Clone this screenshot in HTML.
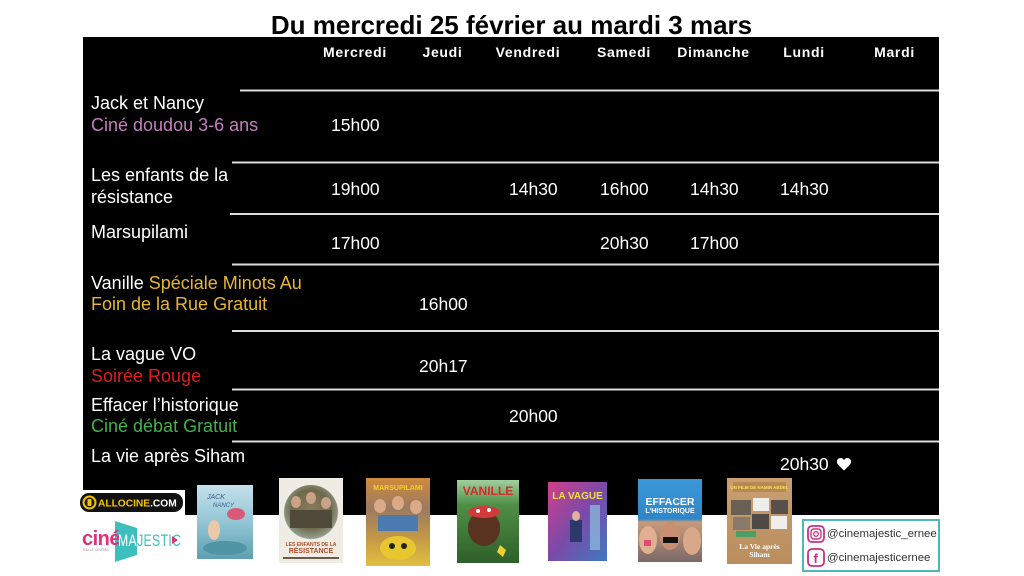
<!DOCTYPE html>
<html lang="fr">
<head>
<meta charset="utf-8">
<title>Du mercredi 25 février au mardi 3 mars</title>
<style>
  html, body { margin:0; padding:0; background:#ffffff; }
  body { width:1024px; height:576px; overflow:hidden; }
  svg { display:block; font-family:"Liberation Sans", Arial, sans-serif; }
</style>
</head>
<body>
<svg width="1024" height="576" viewBox="0 0 1024 576" xmlns="http://www.w3.org/2000/svg">
  <defs>
    <linearGradient id="gJack" x1="0" y1="0" x2="0" y2="1">
      <stop offset="0" stop-color="#c4e0ea"/>
      <stop offset="0.5" stop-color="#93c6d6"/>
      <stop offset="1" stop-color="#5d9fb0"/>
    </linearGradient>
    <radialGradient id="gEnfCircle" cx="0.5" cy="0.45" r="0.6">
      <stop offset="0" stop-color="#8a7a5a"/>
      <stop offset="0.6" stop-color="#6e6a4a"/>
      <stop offset="1" stop-color="#9fb2a8"/>
    </radialGradient>
    <linearGradient id="gMars" x1="0" y1="0" x2="0" y2="1">
      <stop offset="0" stop-color="#d08a3a"/>
      <stop offset="0.35" stop-color="#9a7a62"/>
      <stop offset="0.7" stop-color="#c59a45"/>
      <stop offset="1" stop-color="#e2c040"/>
    </linearGradient>
    <linearGradient id="gVan" x1="0" y1="0" x2="0" y2="1">
      <stop offset="0" stop-color="#9fd0a0"/>
      <stop offset="0.3" stop-color="#4f8f45"/>
      <stop offset="1" stop-color="#2f5f2a"/>
    </linearGradient>
    <linearGradient id="gVague" x1="0" y1="0" x2="1" y2="1">
      <stop offset="0" stop-color="#d0408a"/>
      <stop offset="0.5" stop-color="#7a4aa8"/>
      <stop offset="1" stop-color="#3f78c0"/>
    </linearGradient>
    <linearGradient id="gEff" x1="0" y1="0" x2="0" y2="1">
      <stop offset="0" stop-color="#3b98d8"/>
      <stop offset="0.48" stop-color="#2f86c8"/>
      <stop offset="0.52" stop-color="#c79a7a"/>
      <stop offset="1" stop-color="#7a6a6a"/>
    </linearGradient>
    <linearGradient id="gVie" x1="0" y1="0" x2="0" y2="1">
      <stop offset="0" stop-color="#caa070"/>
      <stop offset="1" stop-color="#b98d5d"/>
    </linearGradient>
  </defs>

  <!-- Title -->
  <text x="511.5" y="34" text-anchor="middle" font-size="26" font-weight="bold" fill="#000">Du mercredi 25 février au mardi 3 mars</text>

  <!-- Black table -->
  <rect x="83" y="37" width="856" height="478" fill="#000"/>

  <!-- Day headers -->
  <g font-size="14" font-weight="bold" fill="#ffffff" text-anchor="middle" letter-spacing="0.7">
    <text x="355" y="57">Mercredi</text>
    <text x="442.5" y="57">Jeudi</text>
    <text x="528" y="57">Vendredi</text>
    <text x="624" y="57">Samedi</text>
    <text x="713.5" y="57">Dimanche</text>
    <text x="804" y="57">Lundi</text>
    <text x="894.5" y="57">Mardi</text>
  </g>

  <!-- Row separators -->
  <g stroke="#dcdcdc" stroke-width="2">
    <line x1="240" y1="90.5" x2="939" y2="90.5"/>
    <line x1="232" y1="162.5" x2="939" y2="162.5"/>
    <line x1="230" y1="214" x2="939" y2="214"/>
    <line x1="232" y1="264.5" x2="939" y2="264.5"/>
    <line x1="232" y1="331" x2="939" y2="331"/>
    <line x1="232" y1="389.5" x2="939" y2="389.5"/>
    <line x1="232" y1="441.5" x2="939" y2="441.5"/>
  </g>

  <!-- Row labels -->
  <g font-size="18" fill="#ffffff">
    <text x="91" y="109">Jack et Nancy</text>
    <text x="91" y="131" fill="#c77dbf">Ciné doudou 3-6 ans</text>
    <text x="91" y="181">Les enfants de la</text>
    <text x="91" y="203">résistance</text>
    <text x="91" y="238">Marsupilami</text>
    <text x="91" y="289">Vanille <tspan fill="#e8b631">Spéciale Minots Au</tspan></text>
    <text x="91" y="310" fill="#e8b631">Foin de la Rue Gratuit</text>
    <text x="91" y="360">La vague VO</text>
    <text x="91" y="382" fill="#e21c1c">Soirée Rouge</text>
    <text x="91" y="411">Effacer l’historique</text>
    <text x="91" y="432" fill="#43b04a">Ciné débat Gratuit</text>
    <text x="91" y="462">La vie après Siham</text>
  </g>

  <!-- Times -->
  <g font-size="17.5" fill="#ffffff">
    <text x="331" y="131">15h00</text>

    <text x="331" y="195">19h00</text>
    <text x="509" y="195">14h30</text>
    <text x="600" y="195">16h00</text>
    <text x="690" y="195">14h30</text>
    <text x="780" y="195">14h30</text>

    <text x="331" y="249">17h00</text>
    <text x="600" y="249">20h30</text>
    <text x="690" y="249">17h00</text>

    <text x="419" y="310">16h00</text>

    <text x="419" y="372">20h17</text>

    <text x="509" y="422">20h00</text>

    <text x="780" y="470">20h30</text>
  </g>
  <!-- heart -->
  <path d="M844 470.5 L838.3 465 C835.8 462.4 836.8 458 840.6 458 C842.4 458 843.4 459 844 460.3 C844.6 459 845.6 458 847.4 458 C851.2 458 852.2 462.4 849.7 465 Z" fill="#ffffff"/>

  <!-- Allociné logo -->
  <rect x="78" y="490" width="107" height="25" fill="#ffffff"/>
  <rect x="80" y="493" width="103" height="19" rx="9" fill="#111"/>
  <circle cx="89.5" cy="502.5" r="7" fill="#f3c300"/>
  <circle cx="89.5" cy="502.5" r="5" fill="#1a1a1a"/>
  <rect x="87.5" y="499" width="4" height="7" rx="1" fill="#f3c300"/>
  <text x="98" y="506.5" font-size="10.2" font-weight="bold" fill="#f3c300">ALLOCINE<tspan fill="#ffffff">.COM</tspan></text>

  <!-- Cinéma Majestic logo -->
  <polygon points="115,521 137,528 137,555 115,562" fill="#3dbfbf"/>
  <text x="82" y="545" font-size="20" font-weight="bold" fill="#e2317c" letter-spacing="-0.5">ciné</text>
  <text x="83" y="551" font-size="3.5" fill="#999">SALLE CINEMA</text>
  <g transform="translate(118,546) scale(0.72,1)">
    <text x="0" y="0" font-size="17" fill="#ffffff" letter-spacing="0.5">MA<tspan fill="#3dbfbf">JESTIC</tspan></text>
  </g>
  <polygon points="172,536 178,540 172,544" fill="#e2317c"/>

  <!-- Poster: Jack et Nancy -->
  <rect x="197" y="485" width="56" height="74" fill="url(#gJack)"/>
  <ellipse cx="236" cy="514" rx="9" ry="6" fill="#d85a78"/>
  <ellipse cx="214" cy="530" rx="6" ry="10" fill="#e9c9a8"/>
  <ellipse cx="225" cy="548" rx="22" ry="7" fill="#4f95a5"/>
  <text x="207" y="499" font-size="7" font-style="italic" fill="#3b5e8a">JACK</text>
  <text x="213" y="507" font-size="6" font-style="italic" fill="#3b5e8a">NANCY</text>

  <!-- Poster: Les enfants de la résistance -->
  <rect x="279" y="478" width="64" height="85" fill="#efece3"/>
  <circle cx="311" cy="512" r="27" fill="url(#gEnfCircle)"/>
  <ellipse cx="296" cy="502" rx="5" ry="6" fill="#c9a288"/>
  <ellipse cx="311" cy="498" rx="5" ry="6" fill="#c9a288"/>
  <ellipse cx="326" cy="503" rx="5" ry="6" fill="#c9a288"/>
  <rect x="290" y="510" width="42" height="18" fill="#4f4a3a"/>
  <text x="311" y="546" text-anchor="middle" font-size="5" font-weight="bold" fill="#b04a2a">LES ENFANTS DE LA</text>
  <text x="311" y="553" text-anchor="middle" font-size="7" font-weight="bold" fill="#b04a2a">RÉSISTANCE</text>
  <rect x="283" y="557" width="56" height="2" fill="#6a5a4a"/>

  <!-- Poster: Marsupilami -->
  <rect x="366" y="478" width="64" height="88" fill="url(#gMars)"/>
  <text x="398" y="490" text-anchor="middle" font-size="7" font-weight="bold" fill="#f3d020">MARSUPILAMI</text>
  <ellipse cx="380" cy="506" rx="6" ry="7" fill="#d9a988"/>
  <ellipse cx="398" cy="503" rx="6" ry="7" fill="#d9a988"/>
  <ellipse cx="416" cy="507" rx="6" ry="7" fill="#d9a988"/>
  <rect x="378" y="515" width="40" height="16" fill="#4a7ab0"/>
  <ellipse cx="398" cy="548" rx="18" ry="12" fill="#e8c72e"/>
  <circle cx="392" cy="546" r="3" fill="#222"/>
  <circle cx="404" cy="546" r="3" fill="#222"/>

  <!-- Poster: Vanille -->
  <rect x="457" y="480" width="62" height="83" fill="url(#gVan)"/>
  <text x="488" y="495" text-anchor="middle" font-size="12" font-weight="bold" fill="#d42a2a">VANILLE</text>
  <ellipse cx="484" cy="528" rx="16" ry="18" fill="#5a3320"/>
  <ellipse cx="484" cy="512" rx="16" ry="6" fill="#d03a3a"/>
  <circle cx="478" cy="511" r="2" fill="#ffffff"/>
  <circle cx="489" cy="510" r="2" fill="#ffffff"/>
  <polygon points="500,545 506,550 503,557 497,552" fill="#f0d030"/>

  <!-- Poster: La vague -->
  <rect x="548" y="482" width="59" height="79" fill="url(#gVague)"/>
  <text x="577.5" y="499" text-anchor="middle" font-size="10" font-weight="bold" fill="#f2e040">LA VAGUE</text>
  <rect x="570" y="520" width="12" height="22" fill="#2b3a6a"/>
  <ellipse cx="576" cy="516" rx="4" ry="5" fill="#e0b0a0"/>
  <rect x="590" y="505" width="10" height="45" fill="#8ec0e0" opacity="0.7"/>

  <!-- Poster: Effacer l'historique -->
  <rect x="638" y="479" width="64" height="83" fill="url(#gEff)"/>
  <text x="670" y="505" text-anchor="middle" font-size="10.5" font-weight="bold" fill="#ffffff">EFFACER</text>
  <text x="670" y="513" text-anchor="middle" font-size="7" font-weight="bold" fill="#ffffff">L’HISTORIQUE</text>
  <ellipse cx="648" cy="540" rx="9" ry="14" fill="#e0b090"/>
  <ellipse cx="670" cy="536" rx="10" ry="14" fill="#c89070"/>
  <ellipse cx="692" cy="541" rx="9" ry="14" fill="#d8a888"/>
  <rect x="663" y="537" width="15" height="6" fill="#111"/>
  <rect x="644" y="540" width="7" height="6" fill="#e04a7a"/>

  <!-- Poster: La vie après Siham -->
  <rect x="727" y="478" width="65" height="86" fill="url(#gVie)"/>
  <rect x="733" y="482" width="53" height="10" fill="#b88850"/>
  <text x="759.5" y="489" text-anchor="middle" font-size="4.5" font-weight="bold" fill="#f5e060">UN FILM DE NAMIR ABDEL</text>
  <rect x="731" y="500" width="20" height="15" fill="#6a6055"/>
  <rect x="753" y="498" width="16" height="13" fill="#eeeeea"/>
  <rect x="771" y="500" width="17" height="14" fill="#57504a"/>
  <rect x="733" y="517" width="17" height="13" fill="#8a7a6a"/>
  <rect x="752" y="514" width="17" height="15" fill="#4f4a45"/>
  <rect x="771" y="516" width="16" height="13" fill="#eeeeea"/>
  <rect x="736" y="531" width="20" height="6" fill="#4aa060"/>
  <text x="759.5" y="549" text-anchor="middle" font-size="7.5" font-family="Liberation Serif, serif" font-weight="bold" fill="#ffffff">La Vie après</text>
  <text x="759.5" y="557" text-anchor="middle" font-size="7.5" font-family="Liberation Serif, serif" font-weight="bold" fill="#ffffff">Siham</text>

  <!-- Social box -->
  <rect x="803" y="520" width="136" height="51" fill="#ffffff" stroke="#4fb8b8" stroke-width="2"/>
  <rect x="808" y="526" width="16" height="16" rx="4" fill="#ffffff" stroke="#c8307f" stroke-width="1.8"/>
  <rect x="811" y="529" width="10" height="10" rx="3" fill="none" stroke="#c8307f" stroke-width="1.4"/>
  <circle cx="816" cy="534" r="2.3" fill="none" stroke="#c8307f" stroke-width="1.3"/>
  <text x="827" y="537" font-size="11.4" fill="#333333">@cinemajestic_ernee</text>
  <rect x="808" y="549" width="16" height="17" rx="4" fill="#ffffff" stroke="#c8307f" stroke-width="1.8"/>
  <text x="813.5" y="563" font-size="13" font-weight="bold" fill="#c8307f">f</text>
  <text x="827" y="561" font-size="11.4" fill="#333333">@cinemajesticernee</text>
</svg>
</body>
</html>
